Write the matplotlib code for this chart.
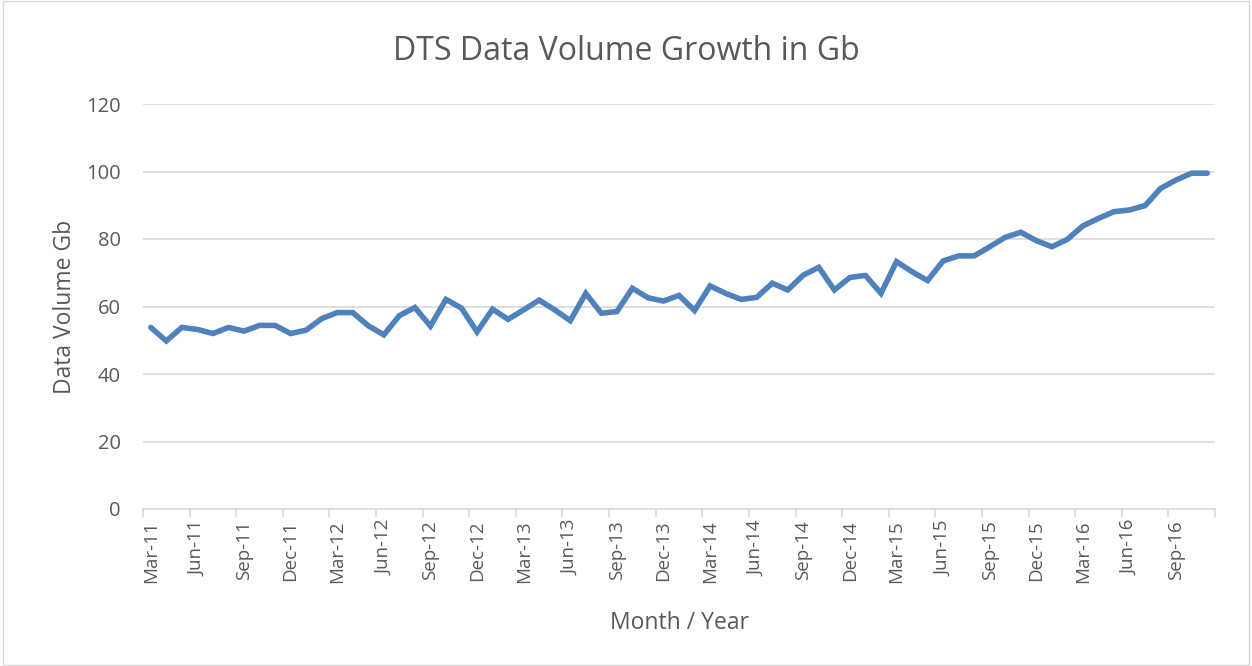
import numpy as np
import matplotlib.pyplot as plt
from matplotlib.patches import Rectangle

# monthly data volume, Mar-11 .. Nov-16
months = ['Mar-11', 'Apr-11', 'May-11', 'Jun-11', 'Jul-11', 'Aug-11', 'Sep-11', 'Oct-11', 'Nov-11', 'Dec-11',
          'Jan-12', 'Feb-12', 'Mar-12', 'Apr-12', 'May-12', 'Jun-12', 'Jul-12', 'Aug-12', 'Sep-12', 'Oct-12',
          'Nov-12', 'Dec-12', 'Jan-13', 'Feb-13', 'Mar-13', 'Apr-13', 'May-13', 'Jun-13', 'Jul-13', 'Aug-13',
          'Sep-13', 'Oct-13', 'Nov-13', 'Dec-13', 'Jan-14', 'Feb-14', 'Mar-14', 'Apr-14', 'May-14', 'Jun-14',
          'Jul-14', 'Aug-14', 'Sep-14', 'Oct-14', 'Nov-14', 'Dec-14', 'Jan-15', 'Feb-15', 'Mar-15', 'Apr-15',
          'May-15', 'Jun-15', 'Jul-15', 'Aug-15', 'Sep-15', 'Oct-15', 'Nov-15', 'Dec-15', 'Jan-16', 'Feb-16',
          'Mar-16', 'Apr-16', 'May-16', 'Jun-16', 'Jul-16', 'Aug-16', 'Sep-16', 'Oct-16', 'Nov-16']
volume = [53.8, 49.8, 53.8, 53.2, 52.0, 53.8, 52.7, 54.4, 54.4, 52.0,
          53.0, 56.4, 58.2, 58.2, 54.3, 51.6, 57.3, 59.7, 54.2, 62.1,
          59.5, 52.5, 59.2, 56.2, 59.0, 61.9, 59.0, 55.8, 63.9, 58.0,
          58.5, 65.4, 62.6, 61.6, 63.3, 58.8, 66.1, 63.9, 62.1, 62.7,
          66.9, 64.9, 69.3, 71.6, 64.9, 68.6, 69.2, 63.9, 73.3, 70.3,
          67.7, 73.5, 75.0, 75.0, 77.7, 80.5, 82.0, 79.5, 77.7, 79.9,
          83.9, 86.1, 88.1, 88.6, 89.9, 95.0, 97.5, 99.5, 99.5]

text_col = '#595959'
grid_col = '#d9d9d9'
line_col = '#4f81bd'

plt.rcParams['font.family'] = ['Open Sans', 'DejaVu Sans']

fig = plt.figure(figsize=(12.52, 6.66), dpi=100)
ax = fig.add_axes([143 / 1252, 1 - 509 / 666, (1215 - 143) / 1252, (509 - 104) / 666])

x = np.arange(len(volume))
ax.plot(x, volume, color=line_col, linewidth=4.0, solid_capstyle='round', solid_joinstyle='miter')

ax.set_xlim(-0.5, len(volume) - 0.5)
ax.set_ylim(0, 120)
ax.set_yticks(np.arange(0, 121, 20))
ax.yaxis.grid(True, color=grid_col, linewidth=1.2)
ax.set_axisbelow(True)

label_pos = x[::3]
ax.set_xticks(label_pos)
ax.set_xticklabels([months[i] for i in label_pos], rotation=90)
ax.set_xticks(np.arange(-0.5, len(volume), 3), minor=True)
ax.tick_params(axis='x', which='major', length=0, pad=8, labelsize=13.5, labelcolor=text_col)
ax.tick_params(axis='x', which='minor', length=6, width=1.2, color=grid_col)
ax.tick_params(axis='y', length=0, pad=16, labelsize=14.5, labelcolor=text_col)

for side in ['top', 'right', 'left']:
    ax.spines[side].set_visible(False)
ax.spines['bottom'].set_color(grid_col)
ax.spines['bottom'].set_linewidth(1.2)

ax.set_ylabel('Data Volume Gb', fontsize=16.5, color=text_col)
ax.yaxis.set_label_coords(-0.062, 0.5)
ax.set_xlabel('Month / Year', fontsize=16.5, color=text_col)
ax.xaxis.set_label_coords(0.5, -0.252)
fig.text(0.5, 1 - 52 / 666, 'DTS Data Volume Growth in Gb', ha='center', va='center',
         fontsize=23, color=text_col)

fig.patches.append(Rectangle((0.002, 0.002), 0.996, 0.996, transform=fig.transFigure,
                             fill=False, edgecolor=grid_col, linewidth=1))

plt.savefig('out.png', dpi=100)
